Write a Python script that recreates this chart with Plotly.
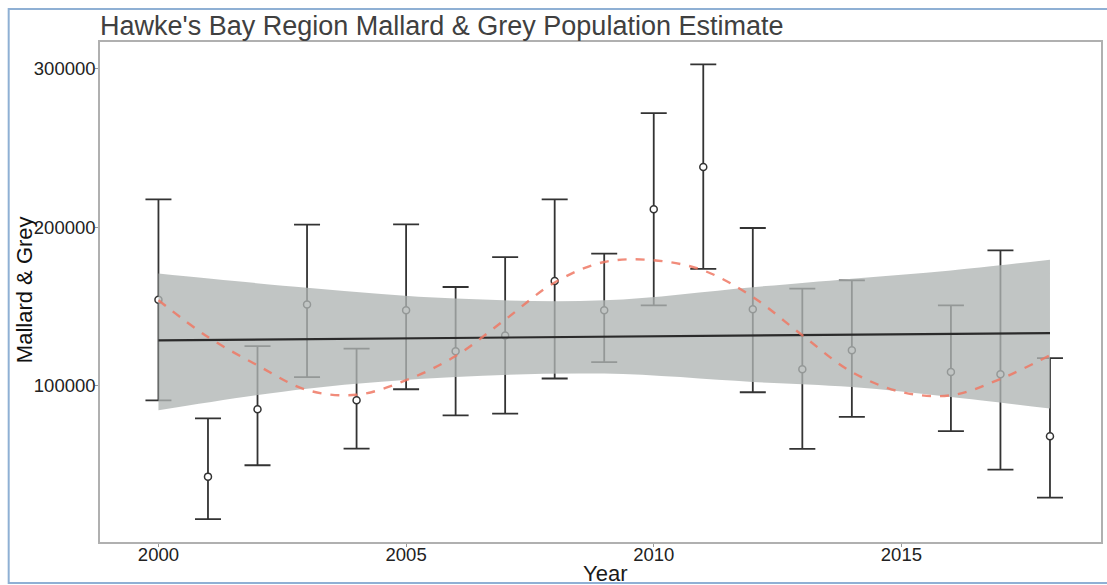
import plotly.graph_objects as go

# ---- data ----
years = [2000, 2001, 2002, 2003, 2004, 2005, 2006, 2007, 2008, 2009,
         2010, 2011, 2012, 2013, 2014, 2016, 2017, 2018]
estimate = [154000, 42300, 84800, 151000, 90500, 147400, 121500, 131500, 165900, 147400,
            211200, 237900, 148000, 110100, 122100, 108400, 107000, 67800]
lower = [90500, 15400, 49500, 105200, 60000, 97500, 81000, 82100, 104300, 114700,
         150500, 173500, 95600, 59800, 80000, 71000, 46700, 29000]
upper = [217500, 79100, 124700, 201500, 123200, 201700, 162100, 181000, 217500, 183200,
         272000, 302800, 199400, 161100, 166300, 150500, 185300, 117200]

# linear trend line and its confidence band
trend_years = [2000, 2018]
trend_values = [128400, 133000]
band_years = [2000, 2003, 2006, 2009, 2012, 2014, 2016, 2018]
band_upper = [170600, 161700, 154800, 153700, 162000, 167400, 172600, 179400]
band_lower = [84200, 97900, 105200, 107400, 102100, 98900, 92600, 85300]

# smooth (loess-like) dashed curve
smooth_years = [2000, 2001, 2002, 2003, 2004, 2005, 2006, 2007, 2008, 2009,
                2010, 2011, 2012, 2013, 2014, 2015, 2016, 2017, 2018]
smooth_values = [153700, 130500, 112600, 97000, 94000, 103200, 118500, 141500, 165000, 177900,
                 179000, 172600, 155800, 131600, 108400, 95800, 93700, 104000, 119000]

x_ticks = [2000, 2005, 2010, 2015]
y_ticks = [100000, 200000, 300000]

title_text = "Hawke's Bay Region Mallard & Grey Population Estimate"
x_title = "Year"
y_title = "Mallard & Grey"

# ---- figure ----
fig = go.Figure()

err_plus = [u - e for u, e in zip(upper, estimate)]
err_minus = [e - l for e, l in zip(estimate, lower)]

fig.add_trace(go.Scatter(
    x=years, y=estimate, mode="markers",
    marker=dict(symbol="circle", size=7, color="white",
                line=dict(color="#333333", width=1.5)),
    error_y=dict(type="data", symmetric=False, array=err_plus, arrayminus=err_minus,
                 color="#333333", thickness=1.8, width=13),
    showlegend=False, hoverinfo="skip"))

# confidence band (drawn over the bars, semi-opaque)
fig.add_trace(go.Scatter(
    x=band_years, y=band_lower, mode="lines", line=dict(width=0, shape="spline"),
    showlegend=False, hoverinfo="skip"))
fig.add_trace(go.Scatter(
    x=band_years, y=band_upper, mode="lines", line=dict(width=0, shape="spline"),
    fill="tonexty", fillcolor="rgba(176,181,179,0.78)",
    showlegend=False, hoverinfo="skip"))

fig.add_trace(go.Scatter(
    x=trend_years, y=trend_values, mode="lines",
    line=dict(color="#2b2b2b", width=2.2),
    showlegend=False, hoverinfo="skip"))

fig.add_trace(go.Scatter(
    x=smooth_years, y=smooth_values, mode="lines",
    line=dict(color="rgba(238,120,100,0.85)", width=2.4, dash="dash", shape="spline"),
    showlegend=False, hoverinfo="skip"))

L, R, T, B = 100, 4, 42, 43
W, H = 1107, 585
pw, ph = W - L - R, H - T - B

def px_x(p):
    return (p - L) / pw

def px_y(p):
    return (H - B - p) / ph

fig.update_layout(
    width=W, height=H,
    margin=dict(l=L, r=R, t=T, b=B),
    paper_bgcolor="white", plot_bgcolor="white",
    font=dict(family="Liberation Sans, Arial, sans-serif", color="#1a1a1a"),
    title=dict(text=title_text, font=dict(size=27, color="#404040"),
               x=100 / W, xanchor="left", xref="container",
               y=1 - 26 / H, yanchor="middle", yref="container"),
    xaxis=dict(range=[1998.82, 2019.03], tickvals=x_ticks, ticks="outside", ticklen=3,
               tickcolor="#999999", showgrid=False, zeroline=False,
               showline=True, linecolor="#b0b0b0", linewidth=1.5, mirror=True,
               ticklabelstandoff=-8,
               tickfont=dict(size=18.5, color="#222222")),
    yaxis=dict(range=[1000, 316900], tickvals=y_ticks, tickformat="d", ticks="outside",
               ticklen=3, tickcolor="#999999", showgrid=False, zeroline=False,
               showline=True, linecolor="#b0b0b0", linewidth=1.5, mirror=True,
               ticklabelstandoff=-4,
               tickfont=dict(size=18.5, color="#222222")),
    annotations=[
        dict(text=x_title, xref="paper", yref="paper", x=px_x(606), y=px_y(573),
             xanchor="center", yanchor="middle", showarrow=False,
             font=dict(size=22, color="#1a1a1a")),
        dict(text=y_title, xref="paper", yref="paper", x=px_x(24), y=px_y(290),
             xanchor="center", yanchor="middle", showarrow=False, textangle=-90,
             font=dict(size=22, color="#111111")),
    ],
    shapes=[
        dict(type="rect", xref="paper", yref="paper",
             x0=px_x(8.5), x1=px_x(1130), y0=px_y(583), y1=px_y(9),
             line=dict(color="#8fb0d4", width=2), fillcolor="rgba(0,0,0,0)", layer="below"),
    ],
)

fig.write_html("out.html", config={"displayModeBar": False},
               post_script="document.body.style.margin='0';")
